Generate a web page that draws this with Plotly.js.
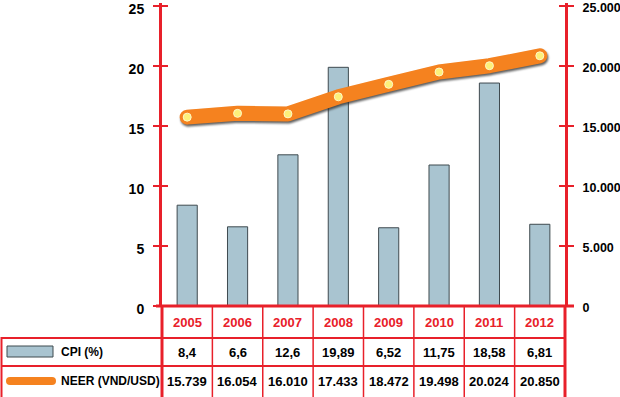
<!DOCTYPE html>
<html><head><meta charset="utf-8">
<script src="https://cdn.plot.ly/plotly-3.0.1.min.js"></script>
<style>
html,body{margin:0;padding:0;background:#fff;}
#chart{width:620px;height:397px;}
.scatterlayer .js-line{stroke-linecap:round;stroke-linejoin:round;filter:drop-shadow(1px 2px 1px rgba(40,40,40,0.75));}
</style>
</head><body><div id="chart"></div>
<script>
const years = ['2005','2006','2007','2008','2009','2010','2011','2012'];
const cpi = [8.4, 6.6, 12.6, 19.89, 6.52, 11.75, 18.58, 6.81];
const neer = [15739, 16054, 16010, 17433, 18472, 19498, 20024, 20850];
const cpiLabels = ['8,4','6,6','12,6','19,89','6,52','11,75','18,58','6,81'];
const neerLabels = ['15.739','16.054','16.010','17.433','18.472','19.498','20.024','20.850'];
const cpiName = 'CPI (%)';
const neerName = 'NEER (VND/USD)';
const leftTicks = [0, 5, 10, 15, 20, 25];
const rightTicks = [0, 5000, 10000, 15000, 20000, 25000];

const RED = '#e8202a';
const FONT = 'Liberation Sans, Arial, sans-serif';
const W = 620, H = 397, ML = 162, MR = 55, MT = 3, MB = 91;
const PH = H - MT - MB, PW = W - ML - MR;
const py = Y => (H - MB - Y) / PH;   // pixel row -> paper y
const px = X => (X - ML) / PW;       // pixel col -> paper x

const traces = [
  {type:'bar', x: years, y: cpi, name: cpiName, width: 0.4,
   marker:{color:'#a9c4d0', line:{color:'#3f4a4f', width:1}}, hoverinfo:'skip'},
  {type:'scatter', mode:'lines+markers', x: years, y: neer, yaxis:'y2', name: neerName,
   line:{color:'#f5821f', width:15, shape:'linear'},
   marker:{size:8, color:'#fdf07a', line:{color:'#fff8c8', width:1}}, hoverinfo:'skip'}
];

const shapes = [];
const annotations = [];
const thin = {color: RED, width: 1.5};
const thick = {color: RED, width: 3};
shapes.push({type:'line', xref:'paper', yref:'paper', x0:px(156), x1:px(574), y0:0, y1:0, line:thick});
shapes.push({type:'line', xref:'paper', yref:'paper', x0:0, x1:0, y0:0, y1:py(398), line:thick});
shapes.push({type:'line', xref:'paper', yref:'paper', x0:1, x1:1, y0:0, y1:py(398), line:thick});
for (let i = 1; i < years.length; i++) {
  shapes.push({type:'line', xref:'x', yref:'paper', x0:i-0.5, x1:i-0.5, y0:0, y1:py(398), line:thin});
}
[338, 366].forEach(Y => shapes.push({type:'line', xref:'paper', yref:'paper', x0:px(1), x1:1, y0:py(Y), y1:py(Y), line:{color:RED, width:2}}));
shapes.push({type:'line', xref:'paper', yref:'paper', x0:px(1.5), x1:px(1.5), y0:py(337), y1:py(398), line:{color:RED, width:2}});
shapes.push({type:'rect', xref:'paper', yref:'paper', x0:px(7), x1:px(53), y0:py(346), y1:py(357),
  fillcolor:'#a9c4d0', line:{color:'#3f4a4f', width:1}});
{
  const r = 4, x0 = 6, x1 = 56, yc = 381;
  const a = px(x0 + r), b = px(x1 - r), t = py(yc - r), btm = py(yc + r);
  shapes.push({type:'path', xref:'paper', yref:'paper', fillcolor:'#f5821f', line:{width:0},
    path:`M ${a} ${t} L ${b} ${t} Q ${px(x1)} ${t} ${px(x1)} ${py(yc)} Q ${px(x1)} ${btm} ${b} ${btm} L ${a} ${btm} Q ${px(x0)} ${btm} ${px(x0)} ${py(yc)} Q ${px(x0)} ${t} ${a} ${t} Z`});
}
const tf = {family: FONT, size: 13, color: '#000', weight: 'bold'};
const lf = {family: FONT, size: 12, color: '#000', weight: 'bold'};
years.forEach((yr, i) => {
  annotations.push({x: i, xref:'x', y: py(322), yref:'paper', yanchor:'middle', text: yr, showarrow:false,
    font:{family: FONT, size: 13, color: RED, weight:'bold'}});
  annotations.push({x: i, xref:'x', y: py(352), yref:'paper', yanchor:'middle', text: cpiLabels[i], showarrow:false, font: tf});
  annotations.push({x: i, xref:'x', y: py(381), yref:'paper', yanchor:'middle', text: neerLabels[i], showarrow:false, font: tf});
});
annotations.push({x: px(59), xref:'paper', xanchor:'left', y: py(352), yref:'paper', yanchor:'middle', text: cpiName, showarrow:false, font: lf});
annotations.push({x: px(59), xref:'paper', xanchor:'left', y: py(381), yref:'paper', yanchor:'middle', text: neerName, showarrow:false, font: lf});

const axBase = {showgrid:false, zeroline:false, linecolor: RED, linewidth:3, tickcolor: RED, tickwidth:2, ticklen:6,
  ticklabeloverflow:'allow', tickfont:{family: FONT, size: 14, color:'#000', weight:'bold'}, fixedrange:true};

const layout = {
  width: W, height: H,
  margin:{l: ML, r: MR, t: MT, b: MB, pad: 0},
  paper_bgcolor:'#fff', plot_bgcolor:'#fff',
  separators: ',.',
  showlegend:false,
  xaxis:{type:'category', range:[-0.5, 7.5], showticklabels:false, ticks:'', showline:false, showgrid:false, zeroline:false, fixedrange:true},
  yaxis: Object.assign({}, axBase, {range:[0,25.25], tickvals:leftTicks, ticks:'outside', side:'left', showline:true, ticklabelstandoff:6, ticklabelshift:3}),
  yaxis3: Object.assign({}, axBase, {range:[0,25.25], tickvals:leftTicks, ticks:'inside', side:'left', overlaying:'y', showline:false, showticklabels:false}),
  yaxis2: Object.assign({}, axBase, {range:[0,25250], tickvals:rightTicks, tickformat:',d', ticks:'outside', side:'right', overlaying:'y', showline:true, ticklabelstandoff:6, ticklabelshift:2,
    tickfont:{family: FONT, size: 12.5, color:'#000', weight:'bold'}}),
  yaxis4: Object.assign({}, axBase, {range:[0,25250], tickvals:rightTicks, ticks:'inside', side:'right', overlaying:'y', showline:false, showticklabels:false}),
  shapes, annotations
};
traces.push({type:'scatter', x:[years[0]], y:[null], yaxis:'y3', hoverinfo:'skip', showlegend:false});
traces.push({type:'scatter', x:[years[0]], y:[null], yaxis:'y4', hoverinfo:'skip', showlegend:false});
Plotly.newPlot('chart', traces, layout, {staticPlot:true, displayModeBar:false});
</script></body></html>
